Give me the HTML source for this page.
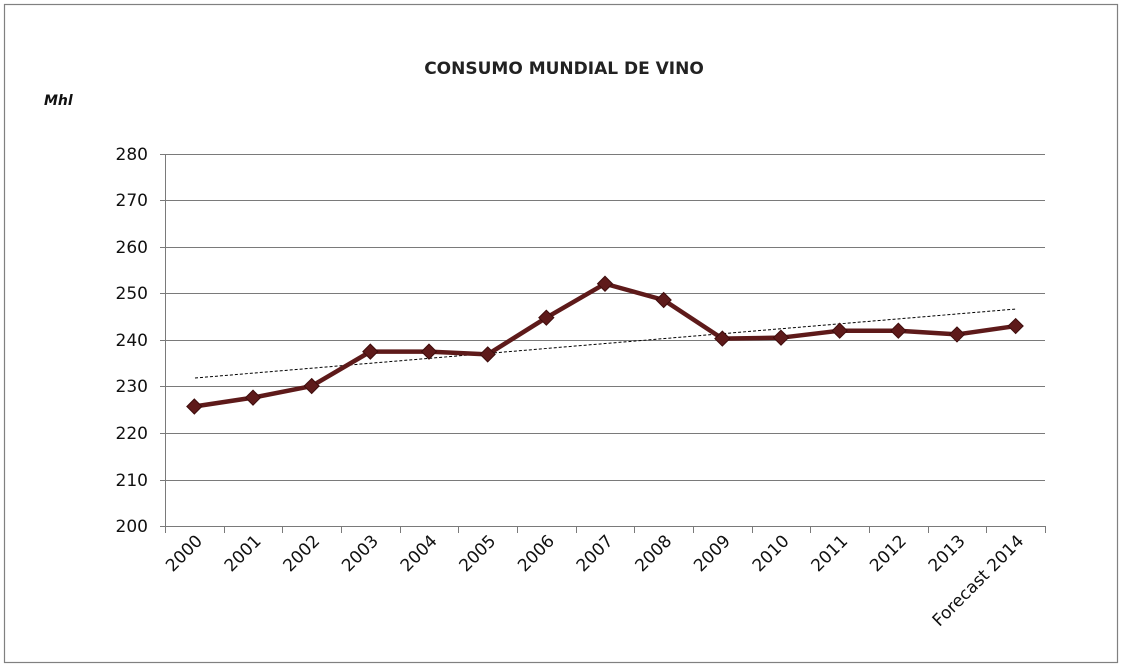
<!DOCTYPE html>
<html><head><meta charset="utf-8"><style>
body{margin:0;background:#fff;width:1123px;height:668px;overflow:hidden}
svg{display:block;font-family:"DejaVu Sans","Liberation Sans",sans-serif}
</style></head><body>
<svg width="1123" height="668" viewBox="0 0 1123 668">
<rect x="4.5" y="4.5" width="1113" height="658" fill="#fff" stroke="#808080" stroke-width="1.2"/>
<text x="564" y="74" text-anchor="middle" font-size="17" font-weight="bold" fill="#222">CONSUMO MUNDIAL DE VINO</text>
<text x="44" y="105" font-size="14" font-weight="bold" font-style="italic" fill="#111">Mhl</text>
<g stroke="#7a7a7a" stroke-width="1">
<line x1="160" y1="154.5" x2="1045" y2="154.5"/>
<line x1="160" y1="200.5" x2="1045" y2="200.5"/>
<line x1="160" y1="247.5" x2="1045" y2="247.5"/>
<line x1="160" y1="293.5" x2="1045" y2="293.5"/>
<line x1="160" y1="340.5" x2="1045" y2="340.5"/>
<line x1="160" y1="386.5" x2="1045" y2="386.5"/>
<line x1="160" y1="433.5" x2="1045" y2="433.5"/>
<line x1="160" y1="480.5" x2="1045" y2="480.5"/>
<line x1="160" y1="526.5" x2="1045" y2="526.5"/>
<line x1="165.5" y1="154" x2="165.5" y2="526"/>
</g>
<g stroke="#7a7a7a" stroke-width="1" id="ticks"></g>
<g font-size="17" fill="#111" text-anchor="end">
<text x="148" y="160">280</text><text x="148" y="206">270</text><text x="148" y="253">260</text>
<text x="148" y="299">250</text><text x="148" y="346">240</text><text x="148" y="392">230</text>
<text x="148" y="439">220</text><text x="148" y="486">210</text><text x="148" y="532">200</text>
</g>
<g id="xl" font-size="17" fill="#111" text-anchor="end"></g>
<line x1="195" y1="378" x2="1016" y2="309" stroke="#000" stroke-width="1" stroke-dasharray="3,2"/>
<polyline id="ln" fill="none" stroke="#5e1a1a" stroke-width="4.5" stroke-linejoin="round"/>
<g id="mk"></g>
</svg>
<script>
var d=[225.7,227.6,230.1,237.5,237.5,236.9,244.8,252.1,248.6,240.3,240.5,242,242,241.2,243];
var lb=["2000","2001","2002","2003","2004","2005","2006","2007","2008","2009","2010","2011","2012","2013","Forecast 2014"];
var w=880/15,pts=[],ns="http://www.w3.org/2000/svg",mk=document.getElementById("mk"),xl=document.getElementById("xl"),tk=document.getElementById("ticks");
for(var i=0;i<=15;i++){var l=document.createElementNS(ns,"line");var x=Math.round(165+i*w)+.5;l.setAttribute("x1",x);l.setAttribute("x2",x);l.setAttribute("y1",526);l.setAttribute("y2",533);tk.appendChild(l);}
d.forEach(function(v,i){var x=165+w*(i+.5),y=526-(v-200)*4.65;pts.push(x+","+y);
var p=document.createElementNS(ns,"polygon");p.setAttribute("points",(x)+","+(y-7.5)+" "+(x+7.5)+","+y+" "+x+","+(y+7.5)+" "+(x-7.5)+","+y);p.setAttribute("fill","#5e1a1a");p.setAttribute("stroke","#3e0c0c");mk.appendChild(p);
var t=document.createElementNS(ns,"text");t.textContent=lb[i];t.setAttribute("transform","translate("+(x+9)+",542) rotate(-45)");xl.appendChild(t);});
document.getElementById("ln").setAttribute("points",pts.join(" "));
</script>
</body></html>
